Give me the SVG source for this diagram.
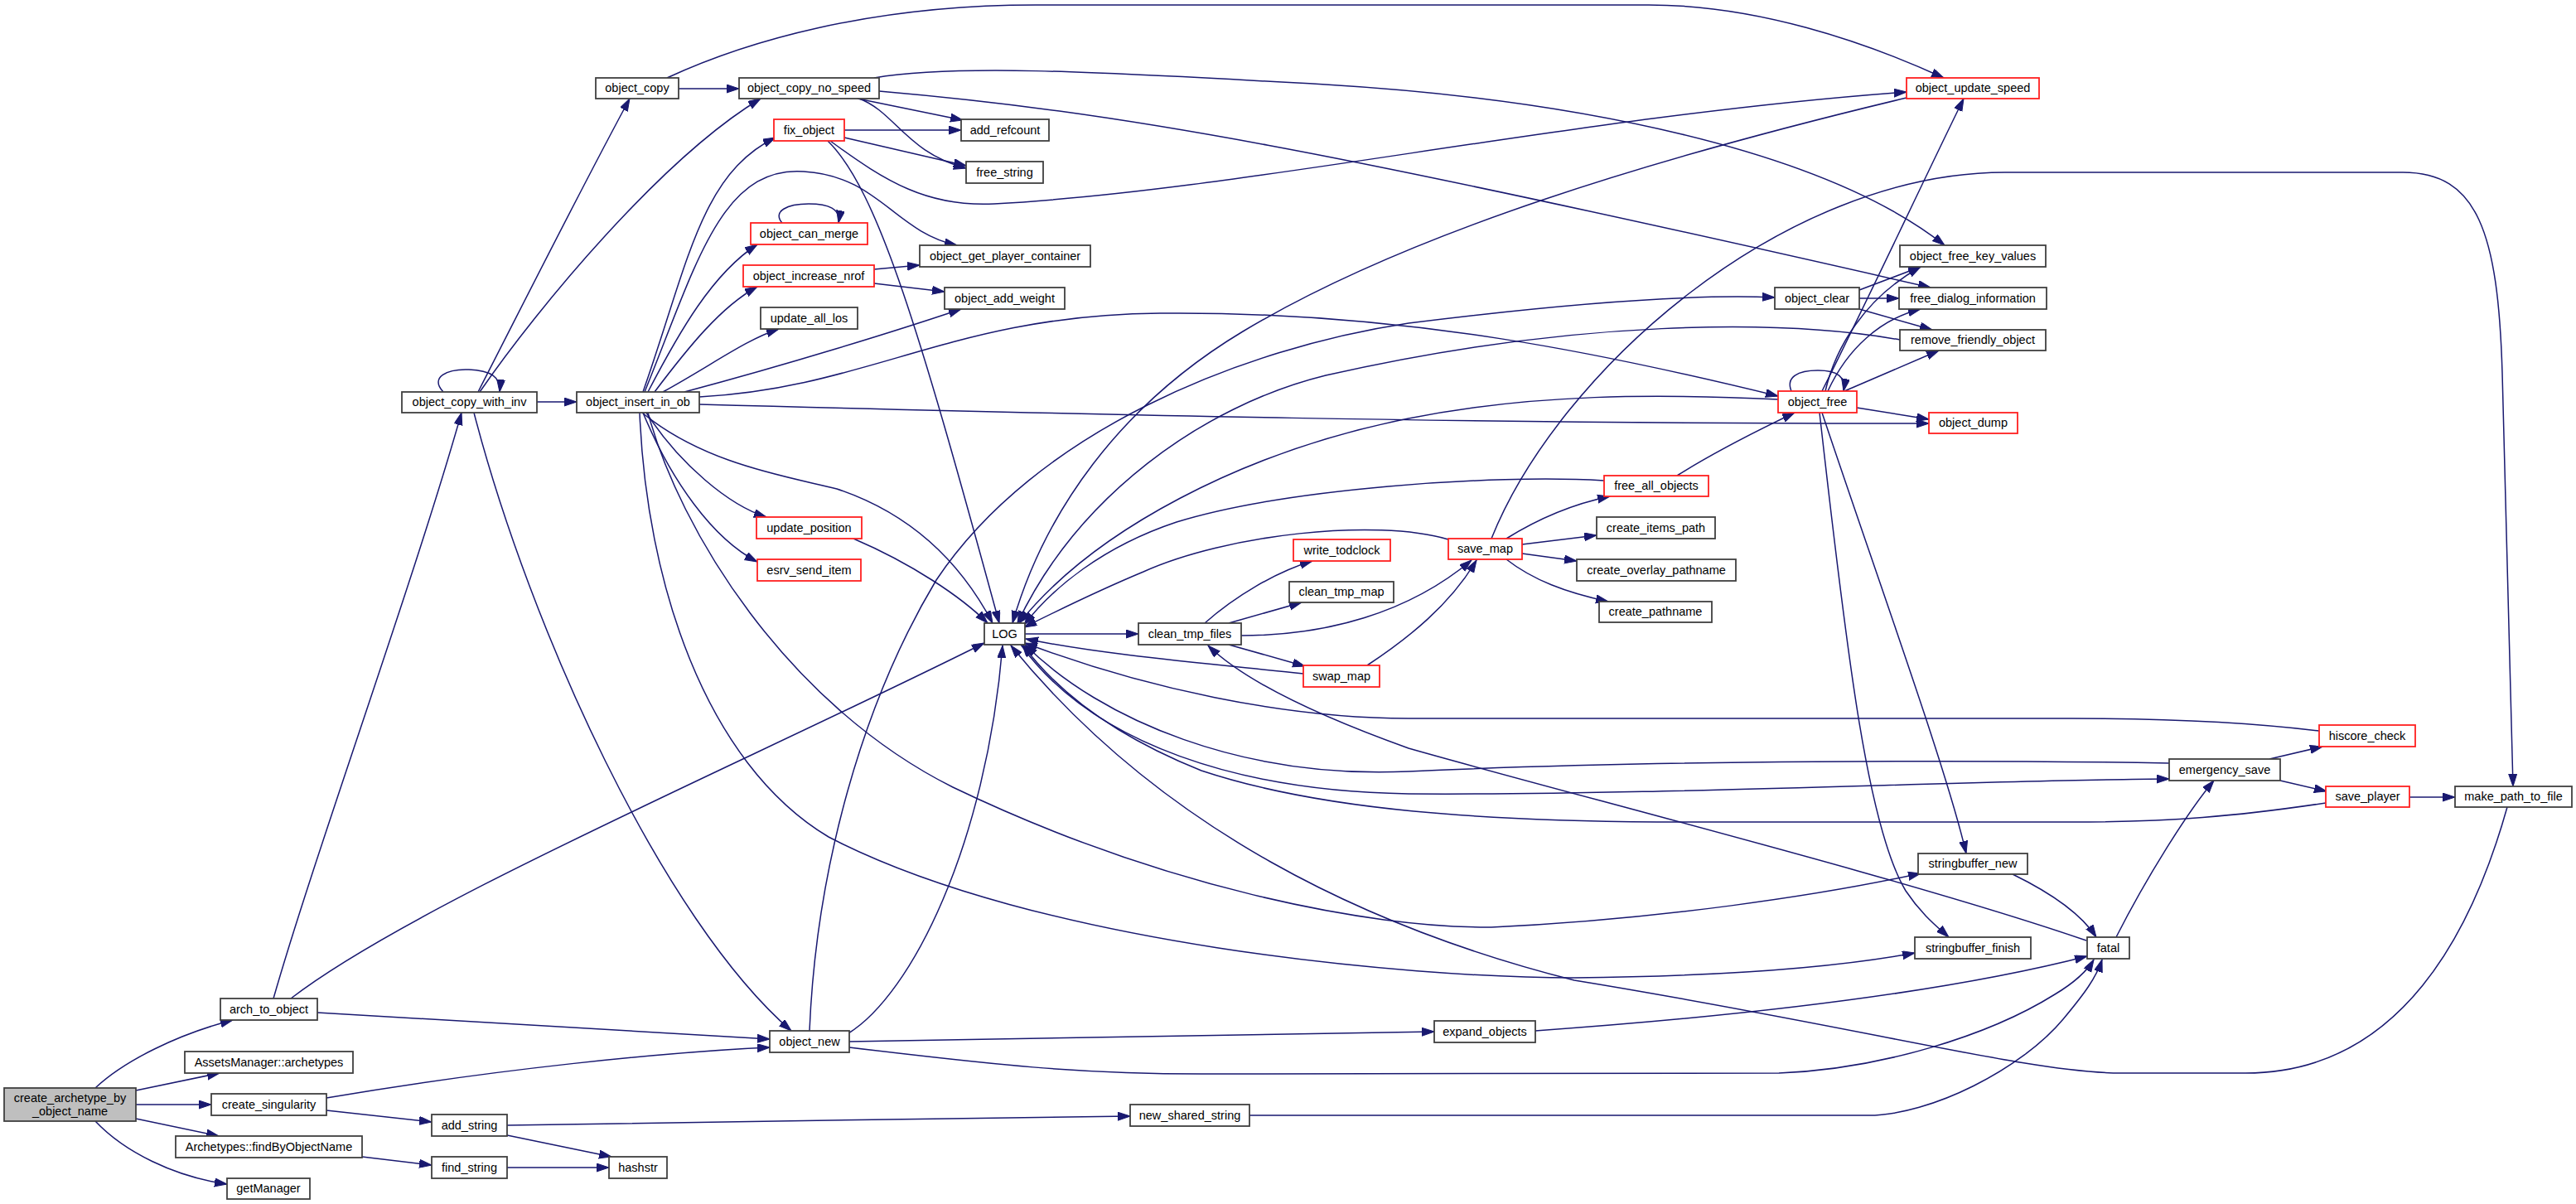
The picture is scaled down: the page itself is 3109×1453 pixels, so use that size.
<svg xmlns="http://www.w3.org/2000/svg" width="3109" height="1453" viewBox="0 0 3109 1453">
<style>
rect{fill:#fff;stroke:#404040;stroke-width:1.8}
rect.r{stroke:#ff2020}
rect.root{fill:#bfbfbf}
text{font-family:"Liberation Sans",Arial,sans-serif;font-size:14.5px;fill:#000;text-anchor:middle}
#edges path{fill:none;stroke:#191970;stroke-width:1.5;marker-end:url(#a)}
</style>
<defs>
<marker id="a" markerUnits="userSpaceOnUse" markerWidth="16" markerHeight="12" refX="15" refY="5" orient="auto">
<path d="M0,0 L15,5 L0,10 z" fill="#191970" stroke="#191970" stroke-width="1"/>
</marker>
</defs>
<rect x="0" y="0" width="3109" height="1453" style="fill:#fff;stroke:none"/>
<g id="edges">
<path d="M115,1313 C150,1280 215,1248 281,1231"/>
<path d="M164,1316 L265,1295"/>
<path d="M164,1333 L255,1333"/>
<path d="M164,1350 L264,1371"/>
<path d="M115,1353 C150,1390 210,1420 274,1429"/>
<path d="M330,1205 C380,1030 500,700 557,498"/>
<path d="M351,1205 C500,1090 900,920 1188,776"/>
<path d="M383,1222 C600,1235 800,1248 929,1254"/>
<path d="M394,1325 C600,1290 800,1270 929,1264"/>
<path d="M394,1340 L521,1354"/>
<path d="M612,1358 C900,1354 1100,1350 1364,1347"/>
<path d="M612,1370 L738,1396"/>
<path d="M437,1396 L521,1406"/>
<path d="M612,1409 L735,1409"/>
<path d="M1508,1346 L2255,1346 C2330,1346 2440,1290 2490,1230 C2515,1200 2530,1180 2537,1158"/>
<path d="M1024,1247 C1100,1200 1190,1020 1210,779"/>
<path d="M977,1244 C985,1050 1040,850 1130,700 C1250,520 1500,420 1700,390 C1900,365 2050,355 2142,359"/>
<path d="M1025,1257 L1731,1245"/>
<path d="M1025,1264 C1200,1285 1300,1296 1450,1296 L2147,1295 C2270,1290 2400,1250 2480,1200 C2505,1185 2520,1170 2527,1158"/>
<path d="M1853,1244 C2050,1230 2320,1205 2519,1154"/>
<path d="M535,473 C518,455 540,445 566,446 C592,447 605,455 603,473"/>
<path d="M577,473 C640,350 700,230 760,119"/>
<path d="M579,473 C650,370 800,190 918,119"/>
<path d="M648,485 L696,485"/>
<path d="M572,498 C640,760 800,1110 955,1244"/>
<path d="M819,107 L892,107"/>
<path d="M805,94 C900,50 1050,6 1250,6 L1990,6 C2120,6 2250,50 2346,94"/>
<path d="M1035,119 L1162,145"/>
<path d="M1037,119 C1080,135 1095,185 1166,203"/>
<path d="M1055,94 C1150,78 1300,85 1600,102 C1900,120 2200,180 2347,296"/>
<path d="M1061,110 C1350,135 1600,180 2330,347"/>
<path d="M1019,157 L1160,157"/>
<path d="M1019,166 L1166,200"/>
<path d="M999,170 C1060,230 1110,400 1206,752"/>
<path d="M1002,170 C1070,220 1120,250 1200,246 C1500,230 1900,140 2301,111"/>
<path d="M776,473 C830,320 845,210 936,166"/>
<path d="M778,473 C840,320 870,200 970,207 C1060,212 1080,280 1155,296"/>
<path d="M782,473 C820,400 860,330 914,295"/>
<path d="M790,473 C830,420 870,370 914,346"/>
<path d="M800,473 C860,440 900,410 940,397"/>
<path d="M826,473 C950,440 1080,400 1160,373"/>
<path d="M844,479 C1050,468 1150,380 1400,378 C1700,375 1950,430 2146,478"/>
<path d="M844,488 C1300,500 1800,512 2328,511"/>
<path d="M775,498 C850,560 950,575 1010,590 C1100,620 1160,680 1198,752"/>
<path d="M780,498 C820,560 880,610 925,624"/>
<path d="M776,498 C810,580 860,650 914,678"/>
<path d="M782,498 C820,640 950,850 1150,950 C1400,1070 1650,1120 1800,1119 C2000,1110 2200,1080 2318,1054"/>
<path d="M772,498 C780,700 850,920 1000,1010 C1250,1140 1700,1180 1900,1180 C2100,1178 2230,1165 2311,1150"/>
<path d="M1030,650 C1100,680 1160,720 1192,752"/>
<path d="M944,269 C932,255 950,246 976,246 C1000,246 1015,252 1012,269"/>
<path d="M1055,325 L1110,320"/>
<path d="M1055,342 L1140,352"/>
<path d="M1237,765 L1374,765"/>
<path d="M1232,778 C1320,900 1500,955 1700,958 C2000,960 2400,941 2618,940"/>
<path d="M2618,921 C2400,917 2000,917 1700,931 C1500,940 1330,870 1237,778"/>
<path d="M2799,882 C2700,870 2600,867 2500,867 L1700,867 C1550,867 1380,830 1237,776"/>
<path d="M2807,969 C2700,985 2620,992 2500,992 L2000,992 C1800,990 1600,980 1450,930 C1350,890 1280,840 1234,778"/>
<path d="M3026,974 C2985,1120 2900,1295 2710,1295 L2560,1295 C2450,1295 2250,1240 1900,1183 C1650,1120 1400,1000 1220,779"/>
<path d="M1454,752 C1490,720 1540,690 1584,677"/>
<path d="M1483,752 L1571,727"/>
<path d="M1483,778 L1575,804"/>
<path d="M1498,767 C1600,767 1700,740 1776,676"/>
<path d="M1650,803 C1700,770 1750,730 1782,676"/>
<path d="M1573,813 C1450,800 1330,790 1238,771"/>
<path d="M2518,1135 C2300,1060 1900,960 1700,903 C1580,860 1500,820 1458,779"/>
<path d="M1748,651 C1660,625 1480,645 1380,690 C1320,715 1270,740 1236,757"/>
<path d="M1818,650 C1850,630 1890,610 1943,599"/>
<path d="M1837,657 L1927,646"/>
<path d="M1837,668 L1903,677"/>
<path d="M1818,675 C1850,700 1890,715 1941,726"/>
<path d="M1800,650 C1880,450 2150,208 2420,208 L2900,208 C2990,208 3015,280 3020,450 C3025,650 3030,800 3033,949"/>
<path d="M2024,574 C2070,545 2120,520 2166,498"/>
<path d="M1936,580 C1800,572 1550,590 1420,630 C1330,660 1270,710 1236,754"/>
<path d="M2162,472 C2155,455 2170,447 2194,447 C2218,447 2228,455 2225,472"/>
<path d="M2146,482 C2000,475 1850,475 1700,505 C1500,545 1320,640 1230,752"/>
<path d="M2241,492 L2328,506"/>
<path d="M2199,472 C2260,350 2330,200 2370,119"/>
<path d="M2203,472 C2215,420 2250,360 2318,322"/>
<path d="M2206,472 C2230,420 2270,385 2318,373"/>
<path d="M2226,472 L2340,423"/>
<path d="M2199,498 C2270,710 2350,930 2373,1030"/>
<path d="M2196,498 C2230,800 2255,1000 2300,1075 C2320,1105 2340,1120 2352,1131"/>
<path d="M2244,350 L2318,322"/>
<path d="M2244,360 L2292,360"/>
<path d="M2244,373 L2332,398"/>
<path d="M2293,410 C2150,385 1900,385 1600,453 C1450,490 1300,600 1228,752"/>
<path d="M2301,118 C2000,190 1700,280 1500,400 C1350,490 1260,620 1222,752"/>
<path d="M2739,916 L2803,901"/>
<path d="M2752,942 L2808,955"/>
<path d="M2908,962 L2963,962"/>
<path d="M2429,1055 C2470,1075 2510,1100 2530,1131"/>
<path d="M2554,1131 C2590,1060 2640,980 2672,942"/>
</g>
<g id="n_root"><rect class="root" x="5" y="1313" width="159" height="40"/><text x="84.5" y="1330">create_archetype_by</text><text x="84.5" y="1346">_object_name</text></g>
<g id="n_arch_to_object"><rect x="266" y="1205" width="117" height="26"/><text x="324.5" y="1223">arch_to_object</text></g>
<g id="n_assets_archetypes"><rect x="223" y="1269" width="203" height="26"/><text x="324.5" y="1287">AssetsManager::archetypes</text></g>
<g id="n_create_singularity"><rect x="255" y="1320" width="139" height="26"/><text x="324.5" y="1338">create_singularity</text></g>
<g id="n_findByObjectName"><rect x="212" y="1371" width="225" height="26"/><text x="324.5" y="1389">Archetypes::findByObjectName</text></g>
<g id="n_getManager"><rect x="274" y="1422" width="100" height="25"/><text x="324" y="1439">getManager</text></g>
<g id="n_add_string"><rect x="521" y="1345" width="91" height="26"/><text x="566.5" y="1363">add_string</text></g>
<g id="n_find_string"><rect x="521" y="1396" width="91" height="26"/><text x="566.5" y="1414">find_string</text></g>
<g id="n_hashstr"><rect x="735" y="1396" width="70" height="26"/><text x="770" y="1414">hashstr</text></g>
<g id="n_object_copy_with_inv"><rect x="485" y="473" width="163" height="25"/><text x="566.5" y="490">object_copy_with_inv</text></g>
<g id="n_object_copy"><rect x="719" y="94" width="100" height="25"/><text x="769" y="111">object_copy</text></g>
<g id="n_object_copy_no_speed"><rect x="892" y="94" width="169" height="25"/><text x="976.5" y="111">object_copy_no_speed</text></g>
<g id="n_object_insert_in_ob"><rect x="696" y="473" width="148" height="25"/><text x="770" y="490">object_insert_in_ob</text></g>
<g id="n_fix_object"><rect class="r" x="934" y="144" width="85" height="26"/><text x="976.5" y="162">fix_object</text></g>
<g id="n_add_refcount"><rect x="1160" y="144" width="106" height="26"/><text x="1213" y="162">add_refcount</text></g>
<g id="n_free_string"><rect x="1166" y="195" width="93" height="26"/><text x="1212.5" y="213">free_string</text></g>
<g id="n_object_can_merge"><rect class="r" x="906" y="269" width="141" height="26"/><text x="976.5" y="287">object_can_merge</text></g>
<g id="n_object_get_player_container"><rect x="1110" y="296" width="206" height="26"/><text x="1213" y="314">object_get_player_container</text></g>
<g id="n_object_increase_nrof"><rect class="r" x="897" y="320" width="158" height="26"/><text x="976" y="338">object_increase_nrof</text></g>
<g id="n_object_add_weight"><rect x="1140" y="347" width="145" height="26"/><text x="1212.5" y="365">object_add_weight</text></g>
<g id="n_update_all_los"><rect x="918" y="371" width="117" height="26"/><text x="976.5" y="389">update_all_los</text></g>
<g id="n_update_position"><rect class="r" x="913" y="624" width="127" height="26"/><text x="976.5" y="642">update_position</text></g>
<g id="n_esrv_send_item"><rect class="r" x="914" y="675" width="125" height="26"/><text x="976.5" y="693">esrv_send_item</text></g>
<g id="n_LOG"><rect x="1188" y="752" width="49" height="26"/><text x="1212.5" y="770">LOG</text></g>
<g id="n_clean_tmp_files"><rect x="1374" y="752" width="124" height="26"/><text x="1436" y="770">clean_tmp_files</text></g>
<g id="n_write_todclock"><rect class="r" x="1561" y="651" width="117" height="26"/><text x="1619.5" y="669">write_todclock</text></g>
<g id="n_clean_tmp_map"><rect x="1556" y="702" width="126" height="25"/><text x="1619" y="719">clean_tmp_map</text></g>
<g id="n_swap_map"><rect class="r" x="1573" y="803" width="92" height="26"/><text x="1619" y="821">swap_map</text></g>
<g id="n_object_new"><rect x="929" y="1244" width="96" height="26"/><text x="977" y="1262">object_new</text></g>
<g id="n_expand_objects"><rect x="1731" y="1232" width="122" height="26"/><text x="1792" y="1250">expand_objects</text></g>
<g id="n_new_shared_string"><rect x="1364" y="1333" width="144" height="26"/><text x="1436" y="1351">new_shared_string</text></g>
<g id="n_object_update_speed"><rect class="r" x="2301" y="94" width="160" height="25"/><text x="2381" y="111">object_update_speed</text></g>
<g id="n_object_free_key_values"><rect x="2293" y="296" width="176" height="26"/><text x="2381" y="314">object_free_key_values</text></g>
<g id="n_object_clear"><rect x="2142" y="347" width="102" height="26"/><text x="2193" y="365">object_clear</text></g>
<g id="n_free_dialog_information"><rect x="2292" y="347" width="178" height="26"/><text x="2381" y="365">free_dialog_information</text></g>
<g id="n_remove_friendly_object"><rect x="2293" y="398" width="176" height="25"/><text x="2381" y="415">remove_friendly_object</text></g>
<g id="n_object_free"><rect class="r" x="2146" y="472" width="95" height="26"/><text x="2193.5" y="490">object_free</text></g>
<g id="n_object_dump"><rect class="r" x="2328" y="498" width="107" height="25"/><text x="2381.5" y="515">object_dump</text></g>
<g id="n_free_all_objects"><rect class="r" x="1936" y="574" width="126" height="25"/><text x="1999" y="591">free_all_objects</text></g>
<g id="n_create_items_path"><rect x="1927" y="624" width="143" height="26"/><text x="1998.5" y="642">create_items_path</text></g>
<g id="n_save_map"><rect class="r" x="1748" y="650" width="89" height="25"/><text x="1792.5" y="667">save_map</text></g>
<g id="n_create_overlay_pathname"><rect x="1903" y="675" width="192" height="26"/><text x="1999" y="693">create_overlay_pathname</text></g>
<g id="n_create_pathname"><rect x="1930" y="726" width="136" height="25"/><text x="1998" y="743">create_pathname</text></g>
<g id="n_hiscore_check"><rect class="r" x="2799" y="875" width="116" height="26"/><text x="2857" y="893">hiscore_check</text></g>
<g id="n_emergency_save"><rect x="2618" y="916" width="134" height="26"/><text x="2685" y="934">emergency_save</text></g>
<g id="n_save_player"><rect class="r" x="2807" y="949" width="101" height="25"/><text x="2857.5" y="966">save_player</text></g>
<g id="n_make_path_to_file"><rect x="2963" y="949" width="141" height="25"/><text x="3033.5" y="966">make_path_to_file</text></g>
<g id="n_stringbuffer_new"><rect x="2315" y="1030" width="132" height="25"/><text x="2381" y="1047">stringbuffer_new</text></g>
<g id="n_stringbuffer_finish"><rect x="2311" y="1131" width="140" height="26"/><text x="2381" y="1149">stringbuffer_finish</text></g>
<g id="n_fatal"><rect x="2519" y="1131" width="51" height="26"/><text x="2544.5" y="1149">fatal</text></g>
</svg>
